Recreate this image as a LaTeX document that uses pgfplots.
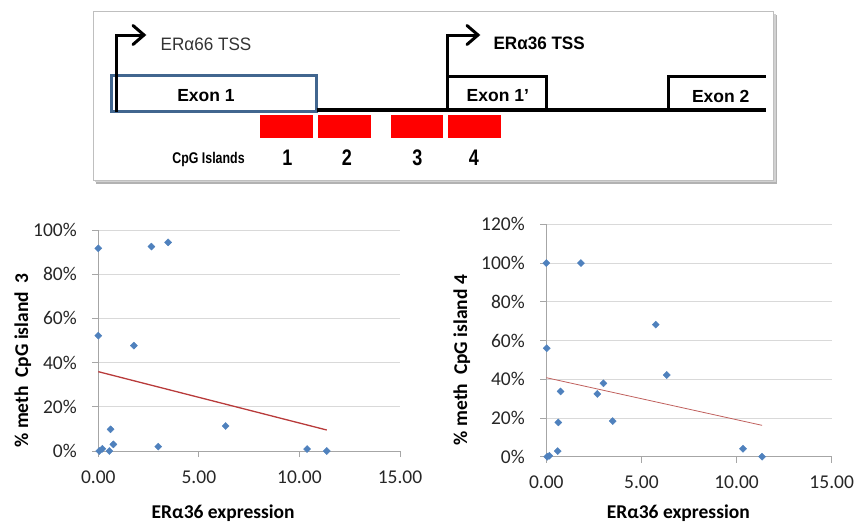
\documentclass[border=0pt]{standalone}
\usepackage{pgfplots}
\pgfplotsset{compat=1.18}
\usepackage{graphicx}
\usepackage{fontspec}
\setmainfont{Liberation Sans}
\newfontfamily\calfont{Carlito}
\definecolor{mblue}{HTML}{4F81BD}
\definecolor{tred}{HTML}{B83B3B}
\definecolor{tred2}{HTML}{C0605D}
\definecolor{exblue}{HTML}{41668F}
\definecolor{gridc}{HTML}{D9D9D9}
\definecolor{axc}{HTML}{A6A6A6}

\pgfplotsset{
  myax/.style={
    scale only axis,
    anchor=south west,
    axis lines*=left,
    xmin=0, xmax=15, ymin=0,
    xtick={0,5,10,15},
    tick align=outside,
    major tick length=6pt,
    axis line style={axc, line width=0.8pt},
    tick style={axc, line width=0.8pt},
    ymajorgrids,
    grid style={gridc, line width=0.8pt},
    /pgf/number format/assume math mode=true,
    xticklabel={\pgfmathprintnumber[fixed,fixed zerofill,precision=2]{\tick}},
    yticklabel={\pgfmathprintnumber{\tick}\%},
    ticklabel style={font=\calfont\fontsize{19.5}{22}\selectfont, text=black!85},
    xticklabel style={yshift=-10pt},
    yticklabel style={xshift=-12pt},
    label style={font=\calfont\bfseries\fontsize{19.5}{22}\selectfont},
    clip=false,
  },
  pts/.style={only marks, mark=square*, mark size=2.5pt, mark options={rotate=45, fill=mblue, draw=mblue}},
}

\begin{document}
\begin{tikzpicture}
\useasboundingbox (0pt,0pt) rectangle (857pt,-525pt);
\begin{scope}[x=1pt,y=-1pt]
  % box with shadow
  \fill[black!30] (96,15) rectangle (777,184);
  \fill[black!18] (95,14) rectangle (775.5,182);
  \filldraw[fill=white, draw=black!25, line width=0.8pt] (93,11.7) rectangle (773.3,180);
  % red CpG islands
  \fill[red] (260,115) rectangle (312.7,138);
  \fill[red] (317.7,115) rectangle (370.7,138);
  \fill[red] (390.7,115) rectangle (442.7,138);
  \fill[red] (448.3,115) rectangle (500.7,138);
  % exon 1 box
  \draw[exblue, line width=3pt] (111.7,75) rectangle (316.7,111);
  % baseline
  \draw[black, line width=3.3pt] (316.7,110) -- (765.7,110);
  % TSS arrows
  \draw[black, line width=3pt, line join=miter] (116.7,111.5) -- (116.7,35) -- (143,35);
  \draw[black, line width=3pt, line join=miter, line cap=round] (133,25.5) -- (144,35) -- (133,44.5);
  \draw[black, line width=3pt, line join=miter] (447.3,111.5) -- (447.3,35) -- (477,35);
  \draw[black, line width=3pt, line join=miter, line cap=round] (467,25.5) -- (478,35) -- (467,44.5);
  % exon 1'
  \draw[black, line width=3pt, line join=miter] (447.3,76) -- (546.7,76) -- (546.7,111.5);
  % exon 2
  \draw[black, line width=3pt, line join=miter] (668.3,111.5) -- (668.3,76) -- (765.7,76);
  % texts
  \node[anchor=base west, inner sep=0pt, text=black!80] at (160.5,50) {\scalebox{0.95}[1]{\fontsize{18}{20}\selectfont ERα66 TSS}};
  \node[anchor=base west, inner sep=0pt] at (493.3,49.3) {\scalebox{0.95}[1]{\fontsize{18}{20}\selectfont\bfseries ERα36 TSS}};
  \node[anchor=base, inner sep=0pt] at (206,101.7) {\fontsize{17.5}{20}\selectfont\bfseries Exon 1};
  \node[anchor=base, inner sep=0pt] at (497.8,101.7) {\fontsize{17.5}{20}\selectfont\bfseries Exon 1’};
  \node[anchor=base, inner sep=0pt] at (720.7,102.7) {\fontsize{17.5}{20}\selectfont\bfseries Exon 2};
  \node[anchor=base, inner sep=0pt] at (208.5,163) {\scalebox{0.8}[1]{\fontsize{15.5}{18}\selectfont\bfseries CpG Islands}};
  \node[anchor=base, inner sep=0pt] at (287.5,165) {\scalebox{0.8}[1]{\fontsize{22.5}{24}\selectfont\bfseries 1}};
  \node[anchor=base, inner sep=0pt] at (347,165) {\scalebox{0.8}[1]{\fontsize{22.5}{24}\selectfont\bfseries 2}};
  \node[anchor=base, inner sep=0pt] at (417.5,165) {\scalebox{0.8}[1]{\fontsize{22.5}{24}\selectfont\bfseries 3}};
  \node[anchor=base, inner sep=0pt] at (474,165) {\scalebox{0.8}[1]{\fontsize{22.5}{24}\selectfont\bfseries 4}};
\end{scope}

% left scatter
\begin{axis}[myax,
  at={(98.3pt,-451pt)},
  width=301.7pt, height=221pt,
  ymax=100, ytick={0,20,...,100},
  xlabel={ERα36 expression},
  ylabel={\%\ meth\ \ CpG island\ \ 3},
  xlabel style={at={(axis description cs:0.414,-0.28)}, anchor=center},
  ylabel style={at={(axis description cs:-0.25,0.41)}, anchor=center},
]
\addplot[pts] coordinates {
 (0.00,91.7) (0.00,52.2) (0.05,0.0) (0.20,1.0) (0.55,0.0) (0.61,9.8)
 (0.75,3.0) (1.77,47.7) (2.64,92.5) (3.47,94.4) (2.98,2.0) (6.33,11.3)
 (10.38,0.9) (11.36,0.0)
};
\addplot[no marks, tred, line width=1.3pt] coordinates {(0,35.9) (11.36,9.5)};
\end{axis}

% right scatter
\begin{axis}[myax,
  at={(546.3pt,-456.7pt)},
  width=285.4pt, height=232.4pt,
  ymax=120, ytick={0,20,...,120},
  xlabel={ERα36 expression},
  ylabel={\%\ meth\ \ CpG island 4},
  xlabel style={at={(axis description cs:0.4625,-0.241)}, anchor=center},
  ylabel style={at={(axis description cs:-0.296,0.416)}, anchor=center},
]
\addplot[pts] coordinates {
 (0.00,100) (1.82,100) (0.02,56.0) (5.75,68.2) (6.33,42.2) (3.00,37.9)
 (2.68,32.4) (0.75,33.7) (0.63,17.7) (3.49,18.4) (0.60,2.9) (0.05,0.0)
 (0.16,0.5) (10.34,4.1) (11.34,0.0)
};
\addplot[no marks, tred2, line width=0.8pt] coordinates {(0,40.8) (11.34,16.2)};
\end{axis}
\end{tikzpicture}
\end{document}
